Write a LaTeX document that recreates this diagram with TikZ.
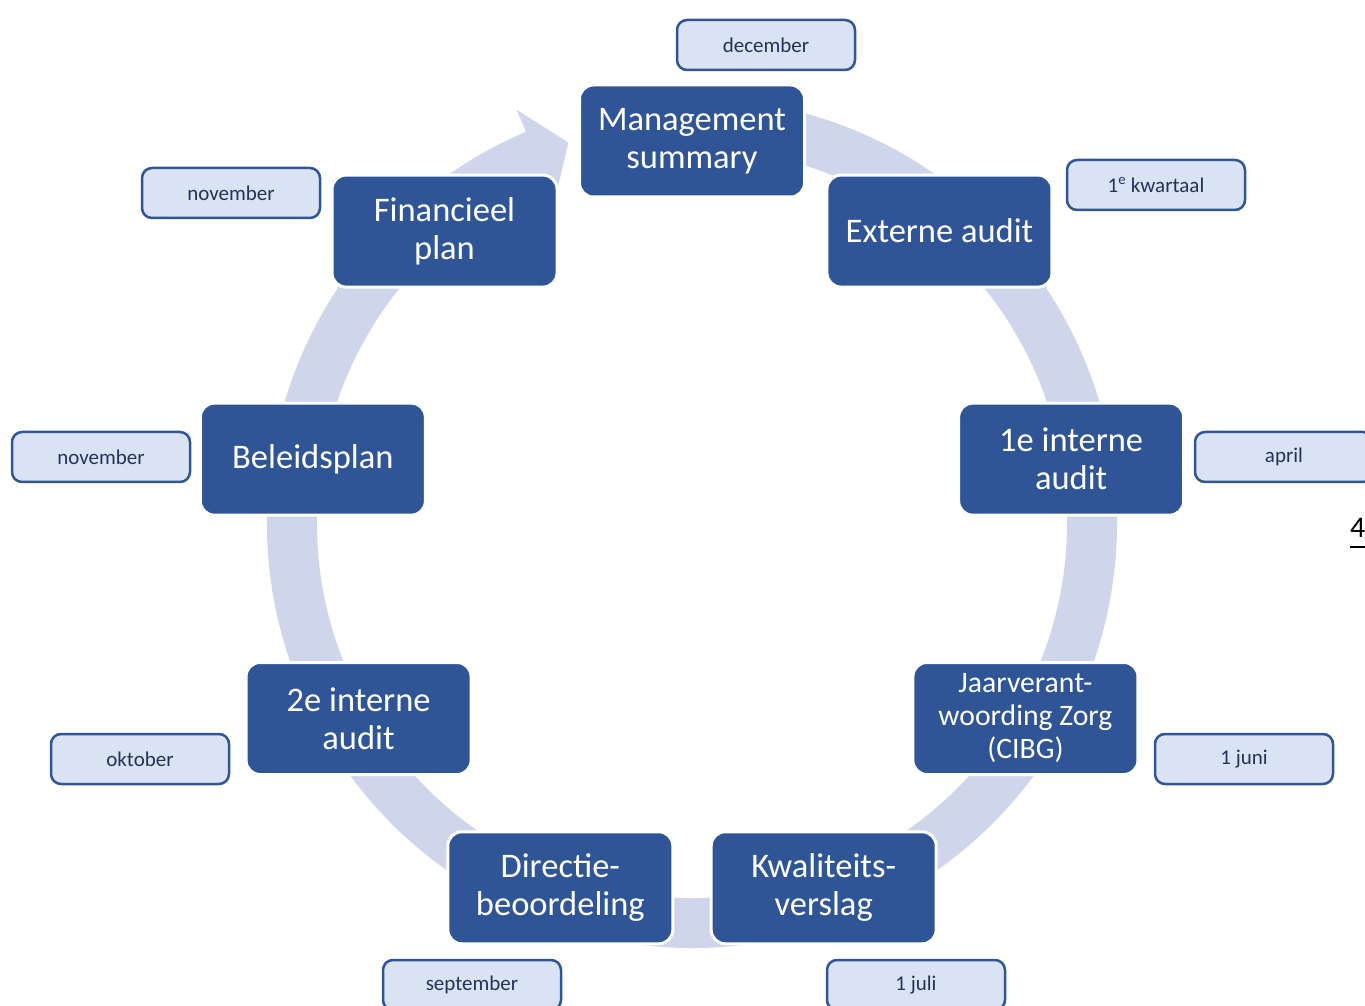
\documentclass[tikz,border=0pt]{standalone}
\usepackage{fontspec}
\setmainfont{Carlito}
\usepackage{tikz}
\usetikzlibrary{positioning}
\definecolor{stageblue}{RGB}{47,85,151}
\definecolor{ringblue}{RGB}{207,213,234}
\definecolor{monthfill}{RGB}{218,227,243}
\definecolor{monthtext}{RGB}{35,50,90}

\begin{document}
\begin{tikzpicture}[
      x=1pt, y=1pt,
      stage/.style={draw=white, line width=3pt, rounded corners=14pt, fill=stageblue,
                    text=white, minimum width=225pt, minimum height=112pt,
                    align=center, font=\fontsize{34.5}{38}\selectfont},
      month/.style={draw=stageblue, line width=2.5pt, rounded corners=10pt, fill=monthfill,
                    text=monthtext, minimum width=178pt, minimum height=50pt,
                    font=\fontsize{21}{24}\selectfont}
  ]
    \useasboundingbox (0,0) rectangle (1365,1005);
    \coordinate (c) at (692,482);
    \coordinate (s) at (692,479);

    % circular arrow behind the stages
    \fill[ringblue] ([shift={(80:425)}]c) arc[start angle=80, end angle=-247, radius=425]
        -- ([shift={(113:449)}]c) -- ([shift={(108:400)}]c) -- ([shift={(113:351)}]c)
        -- ([shift={(113:375)}]c) arc[start angle=-247, end angle=80, radius=375] -- cycle;

    \node[stage] (mgmt) at ([shift={(90:385)}]s)   {Management\\summary};
    \node[stage] (ext)  at ([shift={(50:385)}]s)   {Externe audit};
    \node[stage] (ia1)  at ([shift={(10:385)}]s)   {1e interne\\audit};
    \node[stage, font=\fontsize{29.7}{33}\selectfont] (jv) at ([shift={(-30:385)}]s) {Jaarverant-\\woording Zorg\\(CIBG)};
    \node[stage] (kv)   at ([shift={(-70:385)}]s)  {Kwaliteits-\\verslag};
    \node[stage] (dir)  at ([shift={(-110:385)}]s) {Directie-\\beoordeling};
    \node[stage] (ia2)  at ([shift={(-150:385)}]s) {2e interne\\audit};
    \node[stage] (bp)   at ([shift={(170:385)}]s)  {Beleidsplan};
    \node[stage] (fp)   at ([shift={(130:385)}]s)  {Financieel\\plan};

    % months
    \node[month] (m-dec)  at (766,960)  {december};
    \node[month] (m-kw)   at (1156,820) {1\textsuperscript{e} kwartaal};
    \node[month] (m-apr)  at (1284,548) {april};
    \node[month] (m-jun)  at (1244,246) {1 juni};
    \node[month] (m-jul)  at (916,20)   {1 juli};
    \node[month] (m-sep)  at (472,20)   {september};
    \node[month] (m-okt)  at (140,246)  {oktober};
    \node[month] (m-nov)  at (101,548)  {november};
    \node[month] (m-nov2) at (231,812)  {november};

    % page number at the edge
    \node[anchor=base west, inner sep=0pt, font=\fontsize{30}{34}\selectfont] (pnum) at (1350,467) {4};
    \draw[line width=2pt] (1350,458) -- (1366,458);
  \end{tikzpicture}
\end{document}
